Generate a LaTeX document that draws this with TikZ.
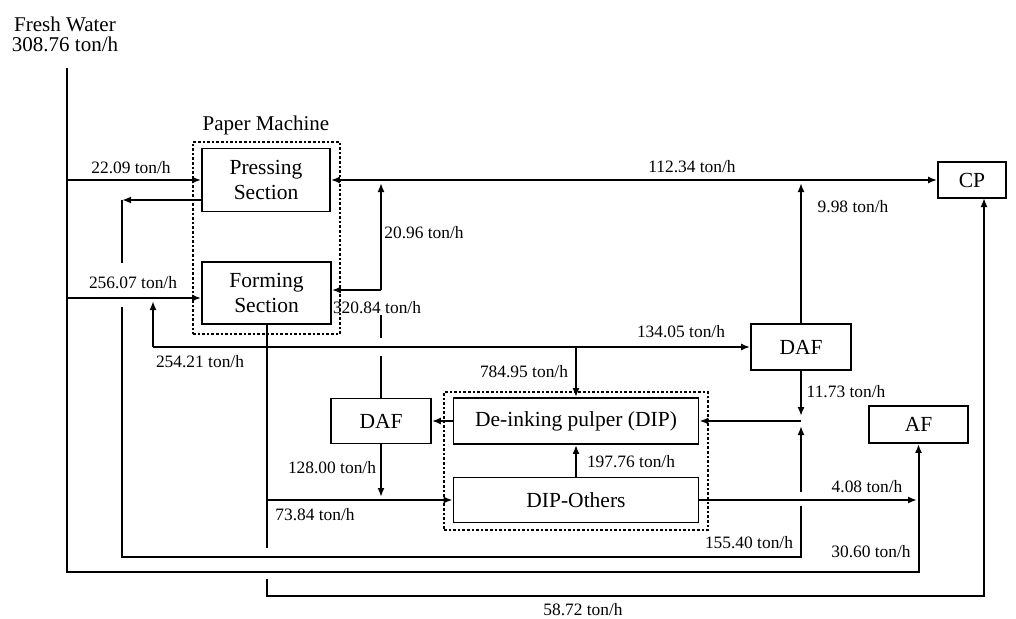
\documentclass[tikz,border=0pt]{standalone}
\usepackage{fontspec}
\setmainfont{Liberation Serif}
\usetikzlibrary{arrows.meta,calc}
\begin{document}
\begin{tikzpicture}[x=1pt,y=-1pt,
  flow/.style={line width=2pt},
  arr/.style={flow,-{Latex[length=9pt,width=7pt]}},
  darr/.style={flow,{Latex[length=9pt,width=7pt]}-{Latex[length=9pt,width=7pt]}},
  box/.style={draw,line width=1.8pt,align=center,inner sep=0pt,
    font=\fontsize{21.5}{25}\selectfont},
  grp/.style={draw,dotted,line width=2.6pt,inner sep=0pt},
  lbl/.style={inner sep=0pt,font=\fontsize{17.4}{20}\selectfont},
  ttl/.style={inner sep=0pt,align=center,font=\fontsize{21}{21}\selectfont}]
\useasboundingbox (0,0) rectangle (1016,618);

% group boxes
\node[grp,minimum width=147pt,minimum height=192pt] (pm) at (266.5,238) {};
\node[grp,minimum width=264pt,minimum height=138pt] (dipgrp) at (576,461) {};

% boxes
\node[box,minimum width=128pt,minimum height=63pt] (press) at (266,180) {Pressing\\Section};
\node[box,minimum width=129pt,minimum height=62pt] (form) at (266.5,293) {Forming\\Section};
\node[box,minimum width=68pt,minimum height=36pt] (cp) at (972,180) {CP};
\node[box,minimum width=100pt,minimum height=46pt] (dafr) at (801,347) {DAF};
\node[box,minimum width=99pt,minimum height=37pt] (af) at (918.5,424.5) {AF};
\node[box,minimum width=100pt,minimum height=45pt] (dafl) at (381,421) {DAF};
\node[box,minimum width=245pt,minimum height=46pt] (dip) at (576,421) {De-inking pulper (DIP)};
\node[box,minimum width=245pt,minimum height=45pt] (dipo) at (576,500) {DIP-Others};

% titles
\node[ttl] (fw) at (65,34) {Fresh Water\\[-1pt]308.76 ton/h};
\node[ttl] (pmlbl) at (266,125) {Paper Machine};

% junction coordinates
\coordinate (fw0) at (67,68);
\coordinate (fwb) at (67,572);
\coordinate (j22) at (67,180);
\coordinate (j256) at (67,298);
\coordinate (pr) at (122,200);
\coordinate (pr1) at (122,263);
\coordinate (pr2) at (122,307);
\coordinate (r155) at (801,557);
\coordinate (r155a) at (801,506);
\coordinate (r155b) at (801,492);
\coordinate (r155t) at (801,426);
\coordinate (jd) at (801,421);
\coordinate (j254) at (153,347);
\coordinate (j254t) at (153,301);
\coordinate (j785) at (576,347);
\coordinate (fb1) at (266.5,548);
\coordinate (fb2) at (266.5,579);
\coordinate (fb3) at (266.5,596);
\coordinate (cpin) at (984,198);
\coordinate (j73) at (266.5,500);
\coordinate (d128) at (381,497);
\coordinate (v1) at (381,356);
\coordinate (v2) at (381,338);
\coordinate (v3) at (381,315);
\coordinate (v4) at (381,290);
\coordinate (v5) at (381,183);
\coordinate (t998) at (801,183);
\coordinate (d1173) at (801,416);
\coordinate (a408) at (917,500);

% fresh water
\draw[arr] (fw0) -- (fwb) -| (af.south);
\draw[arr] (j22) -- (press.west);
\draw[arr] (j256) -- (form.west |- j256);

% pressing return -> 155.40
\draw[arr] (press.west |- pr) -- (pr);
\draw[flow] (pr) -- (pr1);
\draw[flow] (pr2) |- (r155) -- (r155a);
\draw[arr] (r155b) -- (r155t);

% 254.21 / 134.05
\draw[arr] (j254) -- (j254t);
\draw[arr] (j254) -- (dafr.west);
\draw[arr] (j785) -- (dip.north);
\draw[arr] (dipo.north) -- (dip.south);
\draw[arr] (dip.west) -- (dafl.east);
\draw[arr] (dafl.south) -- (d128);
\draw[arr] (j73) -- (dipo.west);

% forming bottom -> CP
\draw[flow] (form.south) -- (fb1);
\draw[arr] (fb2) -- (fb3) -| (cpin);

% left DAF up
\draw[flow] (dafl.north) -- (v1);
\draw[flow] (v2) -- (v3);
\draw[arr] (v4) -- (v5);
\draw[arr] (v4) -- (form.east |- v4);

% top line
\draw[darr] (press.east) -- (cp.west);

% right DAF
\draw[arr] (dafr.north) -- (t998);
\draw[arr] (dafr.south) -- (d1173);
\draw[arr] (jd) -- (dip.east);

% 4.08
\draw[arr] (dipo.east) -- (a408);

% labels
\node[lbl] (l2209) at (131,168) {22.09 ton/h};
\node[lbl] (l25607) at (133,283) {256.07 ton/h};
\node[lbl] (l25421) at (200,362) {254.21 ton/h};
\node[lbl] (l2096) at (424,233) {20.96 ton/h};
\node[lbl] (l32084) at (377,308) {320.84 ton/h};
\node[lbl] (l11234) at (692,167) {112.34 ton/h};
\node[lbl] (l998) at (853,207) {9.98 ton/h};
\node[lbl] (l13405) at (681,332) {134.05 ton/h};
\node[lbl] (l1173) at (846,392) {11.73 ton/h};
\node[lbl] (l78495) at (524,372) {784.95 ton/h};
\node[lbl] (l19776) at (631,462) {197.76 ton/h};
\node[lbl] (l12800) at (332,468) {128.00 ton/h};
\node[lbl] (l7384) at (315,515) {73.84 ton/h};
\node[lbl] (l408) at (867,487) {4.08 ton/h};
\node[lbl] (l15540) at (749,543) {155.40 ton/h};
\node[lbl] (l3060) at (871,552) {30.60 ton/h};
\node[lbl] (l5872) at (583,610) {58.72 ton/h};
\end{tikzpicture}
\end{document}
